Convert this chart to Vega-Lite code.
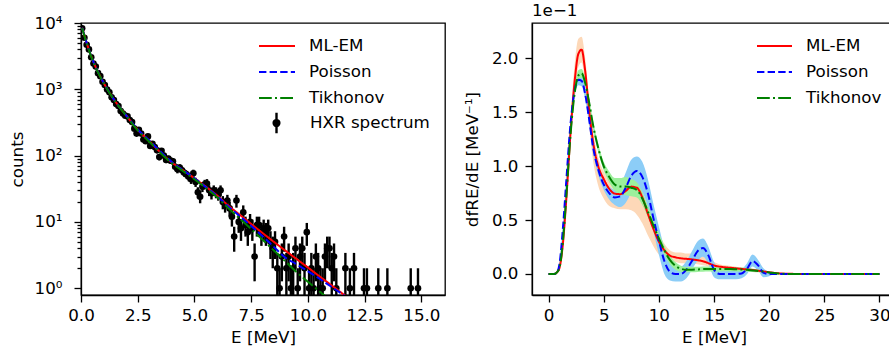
{
  "$schema": "https://vega.github.io/schema/vega-lite/v6.json",
  "padding": {"left": 8, "top": 2, "right": 0, "bottom": 5},
  "spacing": 87,
  "bounds": "flush",
  "background": "white",
  "config": {
    "font": "DejaVu Sans",
    "view": {"stroke": "black", "strokeWidth": 1.3},
    "axis": {"labelFontSize": 16.7, "titleFontSize": 16.7, "labelColor": "black", "titleColor": "black", "domainColor": "black", "tickColor": "black", "domainWidth": 1.3, "tickWidth": 1.3, "tickSize": 7, "grid": false, "titleFontWeight": "normal", "labelFont": "DejaVu Sans", "titleFont": "DejaVu Sans", "labelFlush": false},
    "legend": {"labelFontSize": 16.7, "labelColor": "black", "labelFont": "DejaVu Sans", "padding": 0, "offset": 0}
  },
  "resolve": {"scale": {"color": "independent", "strokeDash": "independent", "fill": "independent"}, "legend": {"color": "independent", "strokeDash": "independent", "fill": "independent"}},
  "datasets": {
    "pts": [
      {"E":0.05,"c":8300,"lo":8209,"hi":8391},{"E":0.15,"c":6000,"lo":5923,"hi":6077},{"E":0.25,"c":4700,"lo":4631,"hi":4769},{"E":0.35,"c":4000,"lo":3937,"hi":4063},{"E":0.45,"c":3050,"lo":2995,"hi":3105},{"E":0.55,"c":2450,"lo":2400,"hi":2500},{"E":0.65,"c":2200,"lo":2153,"hi":2247},{"E":0.75,"c":1750,"lo":1708,"hi":1792},{"E":0.85,"c":1580,"lo":1540,"hi":1620},{"E":0.95,"c":1300,"lo":1264,"hi":1336},
      {"E":1.05,"c":1160,"lo":1126,"hi":1194},{"E":1.15,"c":990,"lo":958,"hi":1022},{"E":1.25,"c":900,"lo":870,"hi":930},{"E":1.35,"c":760,"lo":732,"hi":788},{"E":1.45,"c":690,"lo":664,"hi":716},{"E":1.55,"c":600,"lo":575,"hi":625},{"E":1.65,"c":560,"lo":536,"hi":584},{"E":1.75,"c":470,"lo":448,"hi":492},{"E":1.85,"c":430,"lo":409,"hi":451},{"E":1.95,"c":400,"lo":380,"hi":420},
      {"E":2.05,"c":390,"lo":370,"hi":410},{"E":2.15,"c":345,"lo":326,"hi":364},{"E":2.25,"c":320,"lo":302,"hi":338},{"E":2.35,"c":255,"lo":239,"hi":271},{"E":2.45,"c":215,"lo":200,"hi":230},{"E":2.55,"c":245,"lo":229,"hi":261},{"E":2.65,"c":215,"lo":200,"hi":230},{"E":2.75,"c":175,"lo":162,"hi":188},{"E":2.85,"c":165,"lo":152,"hi":178},{"E":2.95,"c":195,"lo":181,"hi":209},
      {"E":3.05,"c":140,"lo":128,"hi":152},{"E":3.15,"c":150,"lo":138,"hi":162},{"E":3.25,"c":135,"lo":123,"hi":147},{"E":3.35,"c":120,"lo":109,"hi":131},{"E":3.45,"c":95,"lo":85,"hi":105},{"E":3.55,"c":118,"lo":107,"hi":129},{"E":3.65,"c":100,"lo":90,"hi":110},{"E":3.75,"c":86,"lo":77,"hi":95},{"E":3.85,"c":90,"lo":80.5,"hi":99.5},{"E":3.95,"c":84,"lo":75,"hi":93},
      {"E":4.05,"c":82,"lo":73,"hi":91},{"E":4.15,"c":68,"lo":60,"hi":76},{"E":4.25,"c":62,"lo":54,"hi":70},{"E":4.35,"c":66,"lo":58,"hi":74},{"E":4.45,"c":60,"lo":52,"hi":68},{"E":4.55,"c":55,"lo":48,"hi":62},{"E":4.65,"c":52,"lo":45,"hi":59},{"E":4.75,"c":48,"lo":41,"hi":55},{"E":4.85,"c":44,"lo":37.4,"hi":50.6},{"E":4.95,"c":54,"lo":46.7,"hi":61.3},
      {"E":5.05,"c":40,"lo":33.7,"hi":46.3},{"E":5.15,"c":28,"lo":22.7,"hi":33.3},{"E":5.25,"c":24,"lo":19.1,"hi":28.9},{"E":5.35,"c":34,"lo":28.2,"hi":39.8},{"E":5.45,"c":37,"lo":30.9,"hi":43.1},{"E":5.55,"c":38,"lo":31.8,"hi":44.2},{"E":5.65,"c":30,"lo":24.5,"hi":35.5},{"E":5.75,"c":27,"lo":21.8,"hi":32.2},{"E":5.85,"c":30,"lo":24.5,"hi":35.5},{"E":5.95,"c":28,"lo":22.7,"hi":33.3},
      {"E":6.05,"c":26,"lo":20.9,"hi":31.1},{"E":6.15,"c":30,"lo":24.5,"hi":35.5},{"E":6.25,"c":20,"lo":15.5,"hi":24.5},{"E":6.35,"c":18,"lo":13.8,"hi":22.2},{"E":6.45,"c":21,"lo":16.4,"hi":25.6},{"E":6.55,"c":16,"lo":12,"hi":20},{"E":6.65,"c":12,"lo":8.5,"hi":15.5},{"E":6.75,"c":6,"lo":3.55,"hi":8.45},{"E":6.85,"c":21,"lo":16.4,"hi":25.6},{"E":6.95,"c":10,"lo":6.84,"hi":13.16},
      {"E":7.05,"c":8,"lo":5.17,"hi":10.83},{"E":7.15,"c":14,"lo":10.26,"hi":17.74},{"E":7.25,"c":9,"lo":6,"hi":12},{"E":7.35,"c":7,"lo":4.35,"hi":9.65},{"E":7.45,"c":10,"lo":6.84,"hi":13.16},{"E":7.55,"c":8,"lo":5.17,"hi":10.83},{"E":7.65,"c":3,"lo":1.27,"hi":4.73},{"E":7.75,"c":9,"lo":6,"hi":12},{"E":7.85,"c":9,"lo":6,"hi":12},{"E":7.95,"c":7,"lo":4.35,"hi":9.65},
      {"E":8.05,"c":8,"lo":5.17,"hi":10.83},{"E":8.15,"c":7,"lo":4.35,"hi":9.65},{"E":8.25,"c":8,"lo":5.17,"hi":10.83},{"E":8.35,"c":5,"lo":2.76,"hi":7.24},{"E":8.45,"c":4,"lo":2,"hi":6},{"E":8.55,"c":5,"lo":2.76,"hi":7.24},{"E":8.65,"c":2,"lo":0.59,"hi":3.41},{"E":8.75,"c":1,"lo":0.5,"hi":2},{"E":8.85,"c":3,"lo":1.27,"hi":4.73},{"E":8.95,"c":6,"lo":3.55,"hi":8.45},
      {"E":9.05,"c":2,"lo":0.59,"hi":3.41},{"E":9.15,"c":3,"lo":1.27,"hi":4.73},{"E":9.25,"c":1,"lo":0.5,"hi":2},{"E":9.35,"c":2,"lo":0.59,"hi":3.41},{"E":9.45,"c":4,"lo":2,"hi":6},{"E":9.55,"c":1,"lo":0.5,"hi":2},{"E":9.65,"c":3,"lo":1.27,"hi":4.73},{"E":9.75,"c":4,"lo":2,"hi":6},{"E":9.85,"c":2,"lo":0.59,"hi":3.41},{"E":9.95,"c":7,"lo":4.35,"hi":9.65},
      {"E":10.05,"c":1,"lo":0.5,"hi":2},{"E":10.15,"c":2,"lo":0.59,"hi":3.41},{"E":10.25,"c":1,"lo":0.5,"hi":2},{"E":10.35,"c":3,"lo":1.27,"hi":4.73},{"E":10.45,"c":2,"lo":0.59,"hi":3.41},{"E":10.55,"c":1,"lo":0.5,"hi":2},{"E":10.65,"c":1,"lo":0.5,"hi":2},{"E":10.75,"c":3,"lo":1.27,"hi":4.73},{"E":10.85,"c":4,"lo":2,"hi":6},{"E":10.95,"c":4,"lo":2,"hi":6},
      {"E":11.05,"c":2,"lo":0.59,"hi":3.41},{"E":11.15,"c":3,"lo":1.27,"hi":4.73},{"E":11.25,"c":1,"lo":0.5,"hi":2},{"E":11.65,"c":2,"lo":0.59,"hi":3.41},{"E":11.85,"c":1,"lo":0.5,"hi":2},{"E":12.03,"c":2,"lo":0.59,"hi":3.41},{"E":12.47,"c":1,"lo":0.5,"hi":2},{"E":12.6,"c":1,"lo":0.5,"hi":2},{"E":13.1,"c":1,"lo":0.5,"hi":2},{"E":13.5,"c":1,"lo":0.5,"hi":2},{"E":14.53,"c":1,"lo":0.5,"hi":2},{"E":14.85,"c":1,"lo":0.5,"hi":2}
    ],
    "fit": [
      {"method":"ML-EM","E":0.05,"v":8500},{"method":"ML-EM","E":0.25,"v":5000},{"method":"ML-EM","E":0.5,"v":2850},{"method":"ML-EM","E":0.75,"v":1820},{"method":"ML-EM","E":1,"v":1250},{"method":"ML-EM","E":1.5,"v":665},{"method":"ML-EM","E":2,"v":400},{"method":"ML-EM","E":2.5,"v":245},{"method":"ML-EM","E":3,"v":167},{"method":"ML-EM","E":3.5,"v":112},{"method":"ML-EM","E":4,"v":79},{"method":"ML-EM","E":4.5,"v":60},{"method":"ML-EM","E":5,"v":45.5},{"method":"ML-EM","E":5.5,"v":34},{"method":"ML-EM","E":6,"v":25},{"method":"ML-EM","E":6.5,"v":17.5},{"method":"ML-EM","E":7,"v":12.8},{"method":"ML-EM","E":7.5,"v":9.3},{"method":"ML-EM","E":8,"v":6.8},{"method":"ML-EM","E":8.5,"v":5.0},{"method":"ML-EM","E":9,"v":3.7},{"method":"ML-EM","E":9.5,"v":2.75},{"method":"ML-EM","E":10,"v":2.05},{"method":"ML-EM","E":10.5,"v":1.52},{"method":"ML-EM","E":11,"v":1.13},{"method":"ML-EM","E":11.5,"v":0.84},{"method":"ML-EM","E":12,"v":0.62},
      {"method":"Poisson","E":0.05,"v":8500},{"method":"Poisson","E":0.25,"v":5000},{"method":"Poisson","E":0.5,"v":2850},{"method":"Poisson","E":0.75,"v":1820},{"method":"Poisson","E":1,"v":1250},{"method":"Poisson","E":1.5,"v":665},{"method":"Poisson","E":2,"v":400},{"method":"Poisson","E":2.5,"v":248},{"method":"Poisson","E":3,"v":170},{"method":"Poisson","E":3.5,"v":115},{"method":"Poisson","E":4,"v":80},{"method":"Poisson","E":4.5,"v":60},{"method":"Poisson","E":5,"v":45.5},{"method":"Poisson","E":5.5,"v":33.5},{"method":"Poisson","E":6,"v":24.5},{"method":"Poisson","E":6.5,"v":17},{"method":"Poisson","E":7,"v":12.2},{"method":"Poisson","E":7.5,"v":8.7},{"method":"Poisson","E":8,"v":6.1},{"method":"Poisson","E":8.5,"v":4.2},{"method":"Poisson","E":9,"v":2.9},{"method":"Poisson","E":9.5,"v":2.3},{"method":"Poisson","E":10,"v":1.8},{"method":"Poisson","E":10.5,"v":1.4},{"method":"Poisson","E":11,"v":1.07},{"method":"Poisson","E":11.5,"v":0.82},{"method":"Poisson","E":12,"v":0.61},
      {"method":"Tikhonov","E":0.05,"v":8400},{"method":"Tikhonov","E":0.25,"v":4950},{"method":"Tikhonov","E":0.5,"v":2800},{"method":"Tikhonov","E":0.75,"v":1800},{"method":"Tikhonov","E":1,"v":1240},{"method":"Tikhonov","E":1.5,"v":660},{"method":"Tikhonov","E":2,"v":395},{"method":"Tikhonov","E":2.5,"v":240},{"method":"Tikhonov","E":3,"v":163},{"method":"Tikhonov","E":3.5,"v":110},{"method":"Tikhonov","E":4,"v":77},{"method":"Tikhonov","E":4.5,"v":58},{"method":"Tikhonov","E":5,"v":44},{"method":"Tikhonov","E":5.5,"v":32.5},{"method":"Tikhonov","E":6,"v":23.5},{"method":"Tikhonov","E":6.5,"v":16},{"method":"Tikhonov","E":7,"v":11.2},{"method":"Tikhonov","E":7.5,"v":7.8},{"method":"Tikhonov","E":8,"v":5.4},{"method":"Tikhonov","E":8.5,"v":3.7},{"method":"Tikhonov","E":9,"v":2.55},{"method":"Tikhonov","E":9.5,"v":1.75},{"method":"Tikhonov","E":10,"v":1.25},{"method":"Tikhonov","E":10.5,"v":0.9},{"method":"Tikhonov","E":11,"v":0.65},{"method":"Tikhonov","E":11.5,"v":0.47},{"method":"Tikhonov","E":12,"v":0.35}
    ],
    "spec": [
      {"model":"ML-EM","E":0,"v":0,"lo":0,"hi":0},{"model":"ML-EM","E":0.5,"v":0,"lo":0,"hi":0.0005},{"model":"ML-EM","E":0.8,"v":0.002,"lo":0.001,"hi":0.003},{"model":"ML-EM","E":1.0,"v":0.006,"lo":0.004,"hi":0.008},{"model":"ML-EM","E":1.3,"v":0.028,"lo":0.022,"hi":0.034},{"model":"ML-EM","E":1.6,"v":0.068,"lo":0.06,"hi":0.076},{"model":"ML-EM","E":2.0,"v":0.132,"lo":0.12,"hi":0.145},{"model":"ML-EM","E":2.4,"v":0.182,"lo":0.168,"hi":0.198},{"model":"ML-EM","E":2.7,"v":0.204,"lo":0.192,"hi":0.218},{"model":"ML-EM","E":3.0,"v":0.208,"lo":0.196,"hi":0.22},{"model":"ML-EM","E":3.3,"v":0.19,"lo":0.178,"hi":0.202},{"model":"ML-EM","E":3.7,"v":0.15,"lo":0.136,"hi":0.16},{"model":"ML-EM","E":4.0,"v":0.125,"lo":0.108,"hi":0.135},{"model":"ML-EM","E":4.5,"v":0.1,"lo":0.082,"hi":0.108},{"model":"ML-EM","E":5.0,"v":0.088,"lo":0.07,"hi":0.095},{"model":"ML-EM","E":5.5,"v":0.079,"lo":0.063,"hi":0.086},{"model":"ML-EM","E":6.0,"v":0.0745,"lo":0.061,"hi":0.082},{"model":"ML-EM","E":6.5,"v":0.074,"lo":0.06,"hi":0.08},{"model":"ML-EM","E":7.0,"v":0.077,"lo":0.06,"hi":0.082},{"model":"ML-EM","E":7.5,"v":0.081,"lo":0.059,"hi":0.085},{"model":"ML-EM","E":8.0,"v":0.08,"lo":0.055,"hi":0.085},{"model":"ML-EM","E":8.5,"v":0.071,"lo":0.047,"hi":0.077},{"model":"ML-EM","E":9.0,"v":0.056,"lo":0.036,"hi":0.063},{"model":"ML-EM","E":9.5,"v":0.042,"lo":0.026,"hi":0.05},{"model":"ML-EM","E":10.0,"v":0.03,"lo":0.018,"hi":0.038},{"model":"ML-EM","E":10.5,"v":0.022,"lo":0.014,"hi":0.028},{"model":"ML-EM","E":11.0,"v":0.017,"lo":0.012,"hi":0.022},{"model":"ML-EM","E":11.5,"v":0.0155,"lo":0.011,"hi":0.02},{"model":"ML-EM","E":12.0,"v":0.0145,"lo":0.01,"hi":0.02},{"model":"ML-EM","E":12.5,"v":0.014,"lo":0.01,"hi":0.019},{"model":"ML-EM","E":13.0,"v":0.0135,"lo":0.01,"hi":0.019},{"model":"ML-EM","E":13.5,"v":0.0128,"lo":0.009,"hi":0.018},{"model":"ML-EM","E":14.0,"v":0.0118,"lo":0.008,"hi":0.016},{"model":"ML-EM","E":14.5,"v":0.01,"lo":0.007,"hi":0.014},{"model":"ML-EM","E":15.0,"v":0.008,"lo":0.006,"hi":0.011},{"model":"ML-EM","E":15.5,"v":0.0068,"lo":0.005,"hi":0.009},{"model":"ML-EM","E":16.0,"v":0.0062,"lo":0.0045,"hi":0.008},{"model":"ML-EM","E":16.5,"v":0.0057,"lo":0.004,"hi":0.0074},{"model":"ML-EM","E":17.0,"v":0.0052,"lo":0.0037,"hi":0.0067},{"model":"ML-EM","E":17.5,"v":0.0047,"lo":0.0034,"hi":0.006},{"model":"ML-EM","E":18.0,"v":0.0042,"lo":0.003,"hi":0.0054},{"model":"ML-EM","E":18.5,"v":0.0037,"lo":0.0026,"hi":0.0048},{"model":"ML-EM","E":19.0,"v":0.003,"lo":0.002,"hi":0.004},{"model":"ML-EM","E":19.5,"v":0.0023,"lo":0.0015,"hi":0.0031},{"model":"ML-EM","E":20.0,"v":0.0016,"lo":0.001,"hi":0.0022},{"model":"ML-EM","E":20.5,"v":0.001,"lo":0.0006,"hi":0.0014},{"model":"ML-EM","E":21.0,"v":0.0005,"lo":0.0002,"hi":0.0008},{"model":"ML-EM","E":22,"v":0.0001,"lo":0,"hi":0.0002},{"model":"ML-EM","E":24,"v":0,"lo":0,"hi":0},{"model":"ML-EM","E":26,"v":0,"lo":0,"hi":0},{"model":"ML-EM","E":28,"v":0,"lo":0,"hi":0},{"model":"ML-EM","E":30,"v":0,"lo":0,"hi":0},
      {"model":"Poisson","E":0,"v":0,"lo":0,"hi":0},{"model":"Poisson","E":0.5,"v":0,"lo":0,"hi":0},{"model":"Poisson","E":0.8,"v":0.002,"lo":0.001,"hi":0.003},{"model":"Poisson","E":1.0,"v":0.01,"lo":0.008,"hi":0.012},{"model":"Poisson","E":1.3,"v":0.042,"lo":0.038,"hi":0.046},{"model":"Poisson","E":1.6,"v":0.085,"lo":0.08,"hi":0.09},{"model":"Poisson","E":2.0,"v":0.14,"lo":0.135,"hi":0.145},{"model":"Poisson","E":2.4,"v":0.172,"lo":0.167,"hi":0.177},{"model":"Poisson","E":2.7,"v":0.18,"lo":0.175,"hi":0.185},{"model":"Poisson","E":3.0,"v":0.179,"lo":0.174,"hi":0.184},{"model":"Poisson","E":3.3,"v":0.168,"lo":0.163,"hi":0.173},{"model":"Poisson","E":3.7,"v":0.142,"lo":0.137,"hi":0.147},{"model":"Poisson","E":4.0,"v":0.12,"lo":0.115,"hi":0.125},{"model":"Poisson","E":4.5,"v":0.097,"lo":0.092,"hi":0.102},{"model":"Poisson","E":5.0,"v":0.083,"lo":0.078,"hi":0.088},{"model":"Poisson","E":5.5,"v":0.075,"lo":0.069,"hi":0.081},{"model":"Poisson","E":6.0,"v":0.071,"lo":0.064,"hi":0.078},{"model":"Poisson","E":6.5,"v":0.072,"lo":0.062,"hi":0.082},{"model":"Poisson","E":7.0,"v":0.08,"lo":0.066,"hi":0.094},{"model":"Poisson","E":7.5,"v":0.091,"lo":0.075,"hi":0.106},{"model":"Poisson","E":8.0,"v":0.0955,"lo":0.08,"hi":0.109},{"model":"Poisson","E":8.5,"v":0.09,"lo":0.076,"hi":0.104},{"model":"Poisson","E":9.0,"v":0.075,"lo":0.062,"hi":0.088},{"model":"Poisson","E":9.5,"v":0.052,"lo":0.04,"hi":0.065},{"model":"Poisson","E":10.0,"v":0.031,"lo":0.018,"hi":0.044},{"model":"Poisson","E":10.5,"v":0.012,"lo":0,"hi":0.024},{"model":"Poisson","E":11.0,"v":0.002,"lo":-0.006,"hi":0.01},{"model":"Poisson","E":11.5,"v":0,"lo":-0.007,"hi":0.007},{"model":"Poisson","E":12.0,"v":0,"lo":-0.007,"hi":0.007},{"model":"Poisson","E":12.5,"v":0.004,"lo":-0.004,"hi":0.012},{"model":"Poisson","E":13.0,"v":0.012,"lo":0.004,"hi":0.021},{"model":"Poisson","E":13.5,"v":0.021,"lo":0.012,"hi":0.03},{"model":"Poisson","E":14.0,"v":0.024,"lo":0.016,"hi":0.033},{"model":"Poisson","E":14.5,"v":0.017,"lo":0.009,"hi":0.025},{"model":"Poisson","E":15.0,"v":0.004,"lo":-0.003,"hi":0.011},{"model":"Poisson","E":15.5,"v":0,"lo":-0.005,"hi":0.005},{"model":"Poisson","E":16.0,"v":0,"lo":-0.005,"hi":0.005},{"model":"Poisson","E":16.5,"v":0,"lo":-0.005,"hi":0.005},{"model":"Poisson","E":17.0,"v":0,"lo":-0.005,"hi":0.005},{"model":"Poisson","E":17.5,"v":0.0005,"lo":-0.004,"hi":0.005},{"model":"Poisson","E":18.0,"v":0.005,"lo":0,"hi":0.01},{"model":"Poisson","E":18.5,"v":0.012,"lo":0.007,"hi":0.018},{"model":"Poisson","E":19.0,"v":0.008,"lo":0.003,"hi":0.013},{"model":"Poisson","E":19.5,"v":0.001,"lo":-0.003,"hi":0.005},{"model":"Poisson","E":20.0,"v":0,"lo":-0.002,"hi":0.002},{"model":"Poisson","E":20.5,"v":0,"lo":0,"hi":0},{"model":"Poisson","E":21.0,"v":0,"lo":0,"hi":0},{"model":"Poisson","E":22,"v":0,"lo":0,"hi":0},{"model":"Poisson","E":24,"v":0,"lo":0,"hi":0},{"model":"Poisson","E":26,"v":0,"lo":0,"hi":0},{"model":"Poisson","E":28,"v":0,"lo":0,"hi":0},{"model":"Poisson","E":30,"v":0,"lo":0,"hi":0},
      {"model":"Tikhonov","E":0,"v":0,"lo":0,"hi":0},{"model":"Tikhonov","E":0.5,"v":0,"lo":0,"hi":0},{"model":"Tikhonov","E":0.8,"v":0.002,"lo":0.001,"hi":0.003},{"model":"Tikhonov","E":1.0,"v":0.006,"lo":0.004,"hi":0.008},{"model":"Tikhonov","E":1.3,"v":0.03,"lo":0.026,"hi":0.034},{"model":"Tikhonov","E":1.6,"v":0.07,"lo":0.065,"hi":0.075},{"model":"Tikhonov","E":2.0,"v":0.13,"lo":0.125,"hi":0.135},{"model":"Tikhonov","E":2.4,"v":0.17,"lo":0.166,"hi":0.175},{"model":"Tikhonov","E":2.7,"v":0.184,"lo":0.18,"hi":0.189},{"model":"Tikhonov","E":3.0,"v":0.186,"lo":0.182,"hi":0.19},{"model":"Tikhonov","E":3.3,"v":0.178,"lo":0.174,"hi":0.182},{"model":"Tikhonov","E":3.7,"v":0.158,"lo":0.154,"hi":0.162},{"model":"Tikhonov","E":4.0,"v":0.14,"lo":0.136,"hi":0.144},{"model":"Tikhonov","E":4.5,"v":0.117,"lo":0.113,"hi":0.121},{"model":"Tikhonov","E":5.0,"v":0.1,"lo":0.096,"hi":0.104},{"model":"Tikhonov","E":5.5,"v":0.09,"lo":0.085,"hi":0.095},{"model":"Tikhonov","E":6.0,"v":0.083,"lo":0.077,"hi":0.089},{"model":"Tikhonov","E":6.5,"v":0.081,"lo":0.074,"hi":0.089},{"model":"Tikhonov","E":7.0,"v":0.081,"lo":0.073,"hi":0.09},{"model":"Tikhonov","E":7.5,"v":0.08,"lo":0.072,"hi":0.088},{"model":"Tikhonov","E":8.0,"v":0.078,"lo":0.071,"hi":0.085},{"model":"Tikhonov","E":8.5,"v":0.07,"lo":0.064,"hi":0.076},{"model":"Tikhonov","E":9.0,"v":0.058,"lo":0.053,"hi":0.063},{"model":"Tikhonov","E":9.5,"v":0.045,"lo":0.04,"hi":0.05},{"model":"Tikhonov","E":10.0,"v":0.033,"lo":0.028,"hi":0.038},{"model":"Tikhonov","E":10.5,"v":0.022,"lo":0.018,"hi":0.026},{"model":"Tikhonov","E":11.0,"v":0.013,"lo":0.009,"hi":0.017},{"model":"Tikhonov","E":11.5,"v":0.0075,"lo":0.004,"hi":0.011},{"model":"Tikhonov","E":12.0,"v":0.0048,"lo":0.002,"hi":0.0076},{"model":"Tikhonov","E":12.5,"v":0.004,"lo":0.0015,"hi":0.0065},{"model":"Tikhonov","E":13.0,"v":0.004,"lo":0.0015,"hi":0.0065},{"model":"Tikhonov","E":13.5,"v":0.0042,"lo":0.0018,"hi":0.0066},{"model":"Tikhonov","E":14.0,"v":0.0045,"lo":0.002,"hi":0.007},{"model":"Tikhonov","E":14.5,"v":0.0046,"lo":0.0022,"hi":0.007},{"model":"Tikhonov","E":15.0,"v":0.0046,"lo":0.0023,"hi":0.007},{"model":"Tikhonov","E":15.5,"v":0.0046,"lo":0.0024,"hi":0.0068},{"model":"Tikhonov","E":16.0,"v":0.0046,"lo":0.0025,"hi":0.0067},{"model":"Tikhonov","E":16.5,"v":0.0045,"lo":0.0025,"hi":0.0065},{"model":"Tikhonov","E":17.0,"v":0.0043,"lo":0.0024,"hi":0.0062},{"model":"Tikhonov","E":17.5,"v":0.0041,"lo":0.0023,"hi":0.0059},{"model":"Tikhonov","E":18.0,"v":0.0038,"lo":0.0021,"hi":0.0055},{"model":"Tikhonov","E":18.5,"v":0.0033,"lo":0.0018,"hi":0.0048},{"model":"Tikhonov","E":19.0,"v":0.0028,"lo":0.0015,"hi":0.0041},{"model":"Tikhonov","E":19.5,"v":0.0022,"lo":0.0011,"hi":0.0033},{"model":"Tikhonov","E":20.0,"v":0.0014,"lo":0.0007,"hi":0.0021},{"model":"Tikhonov","E":20.5,"v":0.0008,"lo":0.0004,"hi":0.0012},{"model":"Tikhonov","E":21.0,"v":0.0003,"lo":0.0001,"hi":0.0005},{"model":"Tikhonov","E":22,"v":0,"lo":0,"hi":0},{"model":"Tikhonov","E":24,"v":0,"lo":0,"hi":0},{"model":"Tikhonov","E":26,"v":0,"lo":0,"hi":0},{"model":"Tikhonov","E":28,"v":0,"lo":0,"hi":0},{"model":"Tikhonov","E":30,"v":0,"lo":0,"hi":0}
    ]
  },
  "hconcat": [
    {
      "width": 364,
      "height": 272,
      "resolve": {"scale": {"color": "independent"}, "legend": {"color": "independent"}},
      "layer": [
        {
          "data": {"name": "pts"},
          "mark": {"type": "rule", "strokeWidth": 2.4, "clip": true},
          "encoding": {
            "x": {"field": "E", "type": "quantitative", "scale": {"domain": [0, 16.04], "nice": false, "zero": false},
                  "axis": {"title": "E [MeV]", "values": [0, 2.5, 5, 7.5, 10, 12.5, 15], "format": ".1f", "labelPadding": 5, "titlePadding": 6,
                           "labelFontSize": 16.7, "titleFontSize": 16.7, "labelFont": "DejaVu Sans", "titleFont": "DejaVu Sans", "labelColor": "black", "titleColor": "black", "domainColor": "black", "tickColor": "black", "domainWidth": 1.3, "tickWidth": 1.3, "tickSize": 7, "titleFontWeight": "normal", "grid": false, "labelFlush": false}},
            "y": {"field": "lo", "type": "quantitative", "scale": {"type": "log", "domain": [0.79, 10000], "nice": false},
                  "axis": {"title": "counts", "titlePadding": 8, "labelPadding": 12,
                           "labelFontSize": 16.7, "titleFontSize": 16.7, "labelFont": "DejaVu Sans", "titleFont": "DejaVu Sans", "labelColor": "black", "titleColor": "black", "domainColor": "black", "tickColor": "black", "domainWidth": 1.3, "tickWidth": 1.3, "titleFontWeight": "normal", "grid": false, "labelFlush": false,
                           "values": [1,2,3,4,5,6,7,8,9,10,20,30,40,50,60,70,80,90,100,200,300,400,500,600,700,800,900,1000,2000,3000,4000,5000,6000,7000,8000,9000,10000],
                           "labelExpr": "datum.value == 1 ? '10⁰' : datum.value == 10 ? '10¹' : datum.value == 100 ? '10²' : datum.value == 1000 ? '10³' : datum.value == 10000 ? '10⁴' : ''",
                           "labelOverlap": false,
                           "tickSize": {"condition": {"test": "indexof([1,10,100,1000,10000], datum.value) >= 0", "value": 7}, "value": 4}}},
            "y2": {"field": "hi"},
            "color": {"datum": "HXR spectrum", "type": "nominal", "scale": {"domain": ["HXR spectrum"], "range": ["black"]},
                      "legend": {"title": null, "orient": "none", "legendX": 184, "legendY": 89, "clipHeight": 22, "labelOffset": 22, "labelFontSize": 16.7,
                                 "symbolType": "M0,-1V1M-0.28,0A0.28,0.28,0,1,1,0.28,0A0.28,0.28,0,1,1,-0.28,0Z",
                                 "symbolSize": 420, "symbolStrokeWidth": 2.4, "symbolStrokeColor": "black", "symbolFillColor": "black",
                                 "encode": {"symbols": {"update": {"fill": {"value": "black"}, "stroke": {"value": "black"}, "strokeWidth": {"value": 2.4}}}}}}
          }
        },
        {
          "data": {"name": "pts"},
          "mark": {"type": "point", "filled": true, "size": 44, "opacity": 1, "clip": true, "color": "black"},
          "encoding": {
            "x": {"field": "E", "type": "quantitative"},
            "y": {"field": "c", "type": "quantitative"}
          }
        },
        {
          "data": {"name": "fit"},
          "mark": {"type": "line", "strokeWidth": 2, "clip": true, "interpolate": "monotone"},
          "encoding": {
            "x": {"field": "E", "type": "quantitative"},
            "y": {"field": "v", "type": "quantitative"},
            "color": {"field": "method", "type": "nominal", "scale": {"domain": ["ML-EM", "Poisson", "Tikhonov"], "range": ["#ff0000", "#0000ff", "#008000"]},
                      "legend": {"title": null, "orient": "none", "legendX": 177, "legendY": 15, "symbolSize": 1296, "symbolStrokeWidth": 2, "clipHeight": 16, "rowPadding": 9, "labelOffset": 13, "labelFontSize": 16.7,
                                 "encode": {"symbols": {"update": {"strokeDash": {"signal": "datum.value == 'Poisson' ? [7.4, 3.2] : datum.value == 'Tikhonov' ? [12.8, 3.2, 2, 3.2] : [1, 0]"}}}}}},
            "strokeDash": {"field": "method", "type": "nominal", "scale": {"domain": ["ML-EM", "Poisson", "Tikhonov"], "range": [[1, 0], [7.4, 3.2], [12.8, 3.2, 2, 3.2]]},
                      "legend": {"title": null, "orient": "none", "legendX": 675, "legendY": 15, "symbolSize": 1225, "symbolStrokeWidth": 2, "clipHeight": 16, "rowPadding": 9, "labelOffset": 13, "labelFontSize": 16.7,
                                 "encode": {"symbols": {"update": {"stroke": {"signal": "datum.value == 'ML-EM' ? '#ff0000' : datum.value == 'Poisson' ? '#0000ff' : '#008000'"}, "strokeWidth": {"value": 2}}}}}}
          }
        }
      ]
    },
    {
      "width": 364,
      "height": 272,
      "title": {"text": "1e−1", "anchor": "start", "frame": "group", "fontSize": 16.7, "fontWeight": "normal", "font": "DejaVu Sans", "offset": 3, "color": "black"},
      "data": {"name": "spec"},
      "layer": [
        {
          "mark": {"type": "area", "interpolate": "monotone", "opacity": 1},
          "encoding": {
            "x": {"field": "E", "type": "quantitative", "scale": {"domain": [-1.5, 31.5], "nice": false, "zero": false},
                  "axis": {"title": "E [MeV]", "values": [0, 5, 10, 15, 20, 25, 30], "labelPadding": 5, "titlePadding": 6,
                           "labelFontSize": 16.7, "titleFontSize": 16.7, "labelFont": "DejaVu Sans", "titleFont": "DejaVu Sans", "labelColor": "black", "titleColor": "black", "domainColor": "black", "tickColor": "black", "domainWidth": 1.3, "tickWidth": 1.3, "tickSize": 7, "titleFontWeight": "normal", "grid": false, "labelFlush": false}},
            "y": {"field": "lo", "type": "quantitative", "scale": {"domain": [-0.0195, 0.2327], "nice": false, "zero": false},
                  "axis": {"title": "dfRE/dE [MeV⁻¹]", "values": [0, 0.05, 0.1, 0.15, 0.2], "labelExpr": "format(datum.value * 10, '.1f')", "labelPadding": 7, "titlePadding": 10,
                           "labelFontSize": 16.7, "titleFontSize": 16.7, "labelFont": "DejaVu Sans", "titleFont": "DejaVu Sans", "labelColor": "black", "titleColor": "black", "domainColor": "black", "tickColor": "black", "domainWidth": 1.3, "tickWidth": 1.3, "tickSize": 7, "titleFontWeight": "normal", "grid": false, "labelFlush": false}},
            "y2": {"field": "hi"},
            "fill": {"field": "model", "type": "nominal", "scale": {"domain": ["ML-EM", "Poisson", "Tikhonov"], "range": ["#fdd8b8", "#8ccdf7", "#9cf09c"]}, "legend": null}
          }
        },
        {
          "mark": {"type": "line", "strokeWidth": 2, "interpolate": "monotone"},
          "encoding": {
            "x": {"field": "E", "type": "quantitative"},
            "y": {"field": "v", "type": "quantitative"},
            "color": {"field": "model", "type": "nominal", "scale": {"domain": ["ML-EM", "Poisson", "Tikhonov"], "range": ["#ff0000", "#0000ff", "#008000"]}, "legend": null},
            "strokeDash": {"field": "model", "type": "nominal", "scale": {"domain": ["ML-EM", "Poisson", "Tikhonov"], "range": [[1, 0], [7.4, 3.2], [12.8, 3.2, 2, 3.2]]}, "legend": null}
          }
        }
      ]
    }
  ]
}
